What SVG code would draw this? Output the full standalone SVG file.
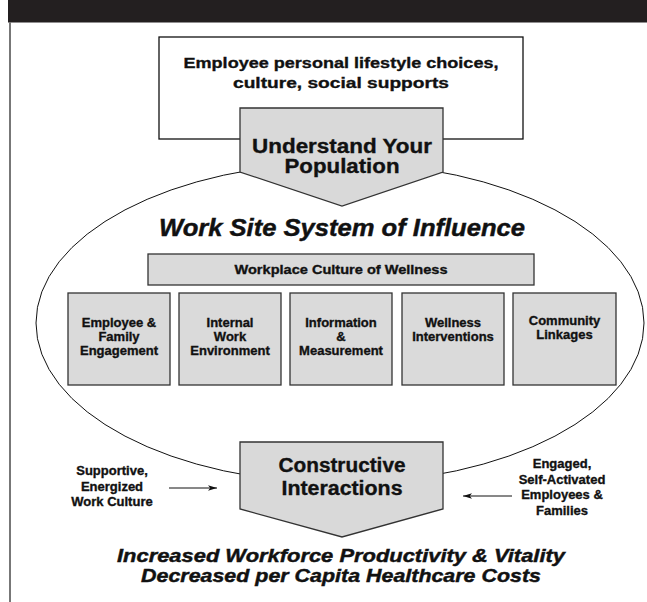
<svg xmlns="http://www.w3.org/2000/svg" width="647" height="602" viewBox="0 0 647 602">
  <defs>
    <style>
      .t { font-family: "Liberation Sans", Arial, sans-serif; font-weight: bold; fill: #111; stroke: #111; stroke-width: 0.35; text-anchor: middle; }
      .ti { font-family: "Liberation Sans", Arial, sans-serif; font-weight: bold; font-style: italic; fill: #111; stroke: #111; stroke-width: 0.45; text-anchor: middle; }
      .box { fill: #dadada; stroke: #333; stroke-width: 1.3; }
      .arrowbox { fill: #d9d9d9; stroke: #333; stroke-width: 1.3; }
      .lbl { font-size: 13px; }
      .conn { stroke: #111; stroke-width: 1; fill: none; }
    </style>
    <marker id="head" viewBox="0 0 10 6" refX="10" refY="3" markerWidth="9" markerHeight="5.4" markerUnits="userSpaceOnUse" orient="auto">
      <path d="M0,0 L10,3 L0,6 L2.5,3 Z" fill="#111"/>
    </marker>
  </defs>

  <!-- page frame: title band and left rule -->
  <rect x="8" y="0" width="639" height="22.5" fill="#231f20"/>
  <rect x="9" y="22" width="2" height="580" fill="#777"/>

  <!-- outer context box -->
  <g id="context">
    <rect x="159" y="37" width="364" height="102" fill="#fff" stroke="#111" stroke-width="1.3"/>
    <text class="t" x="341" y="68" font-size="15.5" textLength="315" lengthAdjust="spacingAndGlyphs">Employee personal lifestyle choices,</text>
    <text class="t" x="341" y="88" font-size="15.5" textLength="216" lengthAdjust="spacingAndGlyphs">culture, social supports</text>
  </g>

  <!-- system of influence ellipse -->
  <g id="system">
    <ellipse cx="340" cy="323" rx="304" ry="160" fill="#fff" stroke="#111" stroke-width="1"/>
    <text class="ti" x="342" y="236" font-size="24" textLength="366" lengthAdjust="spacingAndGlyphs">Work Site System of Influence</text>
  </g>

  <!-- entry arrow -->
  <g id="understand">
    <path class="arrowbox" d="M240,108 H443 V172 L342,206 L240,172 Z"/>
    <text class="t" x="342" y="153" font-size="20" textLength="180" lengthAdjust="spacingAndGlyphs">Understand Your</text>
    <text class="t" x="342" y="173" font-size="20" textLength="115" lengthAdjust="spacingAndGlyphs">Population</text>
  </g>

  <g id="culture">
    <rect class="box" x="148" y="254" width="386" height="31"/>
    <text class="t" x="341" y="274" font-size="13" textLength="213" lengthAdjust="spacingAndGlyphs">Workplace Culture of Wellness</text>
  </g>

  <g id="engagement">
    <rect class="box" x="68" y="293" width="102" height="92"/>
    <text class="t lbl" x="119" y="327">Employee &amp;</text>
    <text class="t lbl" x="119" y="341">Family</text>
    <text class="t lbl" x="119" y="355">Engagement</text>
  </g>

  <g id="environment">
    <rect class="box" x="179" y="293" width="102" height="92"/>
    <text class="t lbl" x="230" y="327">Internal</text>
    <text class="t lbl" x="230" y="341">Work</text>
    <text class="t lbl" x="230" y="355">Environment</text>
  </g>

  <g id="information">
    <rect class="box" x="290" y="293" width="102" height="92"/>
    <text class="t lbl" x="341" y="327">Information</text>
    <text class="t lbl" x="341" y="341">&amp;</text>
    <text class="t lbl" x="341" y="355">Measurement</text>
  </g>

  <g id="interventions">
    <rect class="box" x="402" y="293" width="102" height="92"/>
    <text class="t lbl" x="453" y="327">Wellness</text>
    <text class="t lbl" x="453" y="341">Interventions</text>
  </g>

  <g id="community">
    <rect class="box" x="513" y="293" width="103" height="92"/>
    <text class="t lbl" x="564.5" y="325">Community</text>
    <text class="t lbl" x="564.5" y="339">Linkages</text>
  </g>

  <!-- outcome arrow -->
  <g id="constructive">
    <path class="arrowbox" d="M240,442 H443 V509 L342,537 L240,509 Z"/>
    <text class="t" x="342" y="472" font-size="20" textLength="127" lengthAdjust="spacingAndGlyphs">Constructive</text>
    <text class="t" x="342" y="495" font-size="20" textLength="121" lengthAdjust="spacingAndGlyphs">Interactions</text>
  </g>

  <g id="work-culture">
    <text class="t lbl" x="112" y="475">Supportive,</text>
    <text class="t lbl" x="112" y="490.5">Energized</text>
    <text class="t lbl" x="112" y="506">Work Culture</text>
  </g>

  <g id="employees">
    <text class="t lbl" x="562" y="468">Engaged,</text>
    <text class="t lbl" x="562" y="483.5">Self-Activated</text>
    <text class="t lbl" x="562" y="499">Employees &amp;</text>
    <text class="t lbl" x="562" y="514.5">Families</text>
  </g>

  <g id="connectors">
    <line class="conn" x1="169" y1="488" x2="217" y2="488" marker-end="url(#head)"/>
    <line class="conn" x1="512" y1="496" x2="463" y2="496" marker-end="url(#head)"/>
  </g>

  <g id="outcomes">
    <text class="ti" x="341" y="562" font-size="19" textLength="448" lengthAdjust="spacingAndGlyphs">Increased Workforce Productivity &amp; Vitality</text>
    <text class="ti" x="341" y="582" font-size="19" textLength="400" lengthAdjust="spacingAndGlyphs">Decreased per Capita Healthcare Costs</text>
  </g>
</svg>
